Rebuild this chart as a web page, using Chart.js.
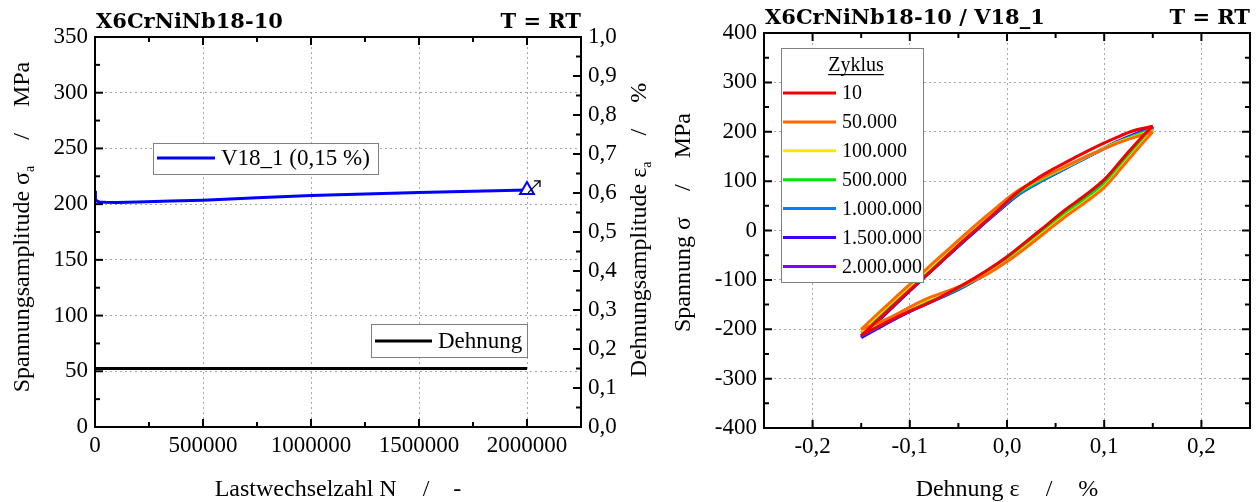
<!DOCTYPE html>
<html>
<head>
<meta charset="utf-8">
<script src="https://cdn.jsdelivr.net/npm/chart.js@4.4.0/dist/chart.umd.min.js"></script>
<style>
  html, body { margin: 0; padding: 0; background: #fff; }
  #wrap { position: relative; width: 1258px; height: 502px; overflow: hidden; }
  .panel { position: absolute; top: 0; }
  #left { left: 0; }
  #right { left: 630px; }
</style>
</head>
<body>
<div id="wrap">
  <div class="panel" id="left"><canvas id="ampChart" width="660" height="502"></canvas></div>
  <div class="panel" id="right"><canvas id="loopChart" width="628" height="502"></canvas></div>
</div>
<script>
// --- Wechselverformungskurve V18_1 ---
const cyclesN   = [0, 1000, 3000, 8000, 20000, 50000, 100000, 200000, 350000, 500000, 750000, 1000000, 1250000, 1500000, 1750000, 2000000];
const stressAmp = [212, 208, 204.5, 202.8, 202, 201.6, 201.5, 202, 202.8, 203.6, 205.8, 207.8, 209.1, 210.4, 211.5, 212.8];
const strainN   = [0, 2000000];
const strainAmp = [0.15, 0.15];
const runoutN      = [2000000];
const runoutStress = [212.8];

const cycleTicks     = [0, 500000, 1000000, 1500000, 2000000];
const stressAmpTicks = [0, 50, 100, 150, 200, 250, 300, 350];
const strainAmpTicks = [0, 0.1, 0.2, 0.3, 0.4, 0.5, 0.6, 0.7, 0.8, 0.9, 1.0];

// --- Hystereseschleifen ---
const cycleLabels = ['10', '50.000', '100.000', '500.000', '1.000.000', '1.500.000', '2.000.000'];
const cycleColors = ['#f00000', '#ff6a00', '#ffe600', '#00e600', '#0080ff', '#4000ff', '#8000ff'];
const strainUp   = [-0.15, -0.13, -0.11, -0.09, -0.07, -0.05, -0.03, -0.01, 0.01, 0.03, 0.05, 0.07, 0.09, 0.11, 0.13, 0.15];
const strainDown = [0.15, 0.14, 0.12, 0.10, 0.08, 0.06, 0.04, 0.02, 0.00, -0.02, -0.04, -0.06, -0.08, -0.10, -0.12, -0.14, -0.15];

const up10     = [-213, -176, -139, -103, -67, -30, 5, 40, 76, 104, 127, 148, 168, 186, 202, 211];
const up50k    = [-200, -163, -127, -91, -55, -20, 15, 48, 79, 101, 120, 139, 157, 174, 188, 200];
const up100k   = [-203, -166, -130, -94, -58, -22, 13, 46, 77, 100, 119, 138, 157, 175, 189, 202];
const up500k   = [-207, -171, -135, -99, -63, -27, 8, 42, 74, 98, 118, 138, 157, 176, 191, 205];
const up1000k  = [-213, -176, -139, -102, -66, -30, 5, 39, 71, 95, 116, 136, 156, 175, 192, 207];
const up1500k  = [-217, -179, -141, -104, -68, -32, 3, 37, 70, 94, 115, 136, 156, 176, 193, 209];
const up2000k  = [-215, -177, -140, -103, -67, -31, 4, 38, 71, 95, 116, 137, 157, 177, 194, 210];

const down10    = [211, 192, 148, 103, 71, 42, 10, -22, -53, -80, -104, -126, -146, -163, -182, -202, -213];
const down50k   = [200, 178, 132, 87, 56, 28, -3, -34, -63, -88, -106, -122, -136, -155, -176, -193, -200];
const down100k  = [202, 180, 134, 89, 58, 30, -1, -32, -62, -87, -106, -123, -138, -157, -177, -196, -203];
const down500k  = [205, 184, 139, 94, 63, 35, 3, -29, -59, -85, -107, -126, -143, -160, -179, -198, -207];
const down1000k = [207, 187, 142, 96, 64, 36, 4, -28, -59, -86, -108, -128, -145, -162, -182, -203, -213];
const down1500k = [209, 189, 144, 97, 65, 37, 5, -27, -58, -86, -109, -129, -146, -164, -184, -206, -217];
const down2000k = [210, 190, 145, 98, 65, 37, 5, -27, -58, -86, -108, -128, -146, -164, -184, -205, -215];

const strainTicks = [-0.2, -0.1, 0, 0.1, 0.2];
const stressTicks = [-400, -300, -200, -100, 0, 100, 200, 300, 400];

const loopUp   = [up10, up50k, up100k, up500k, up1000k, up1500k, up2000k];
const loopDown = [down10, down50k, down100k, down500k, down1000k, down1500k, down2000k];

const SERIF = "'Liberation Serif', 'Times New Roman', serif";
const TICK_FONT = { family: SERIF, size: 23 };
const TITLE_FONT = "24px " + SERIF;
const SUB_FONT = "14px " + SERIF;
const HEAD_FONT = "bold 21px 'DejaVu Serif', serif";
const GRID = { color: '#a8a8a8', lineWidth: 1, drawTicks: false };
const DASH = { display: false, dash: [2, 3] };

Chart.defaults.color = '#000';
Chart.defaults.font.family = SERIF;
Chart.defaults.font.size = 23;

const comma = v => Math.abs(v) < 1e-9 ? '0,0' : v.toFixed(1).replace('.', ',');
const fixedTicks = values => scale => { scale.ticks = values.map(v => ({ value: v })); };

// rahmen mit nach innen gerichteten haupt- und nebenstrichen
function drawFrame(chart, marks) {
  const { ctx, chartArea: a } = chart;
  ctx.save();
  ctx.strokeStyle = '#000';
  ctx.lineWidth = 2;
  ctx.strokeRect(a.left, a.top, a.right - a.left, a.bottom - a.top);
  marks.forEach(m => {
    const s = chart.scales[m.scale];
    for (let v = s.min; v <= s.max + m.minor / 100; v += m.minor) {
      const major = Math.abs(v / m.major - Math.round(v / m.major)) < 1e-6;
      const len = major ? 8 : 5;
      const p = s.getPixelForValue(v);
      ctx.beginPath();
      m.sides.forEach(side => {
        if (side === 'bottom') { ctx.moveTo(p, a.bottom); ctx.lineTo(p, a.bottom - len); }
        if (side === 'top') { ctx.moveTo(p, a.top); ctx.lineTo(p, a.top + len); }
        if (side === 'left') { ctx.moveTo(a.left, p); ctx.lineTo(a.left + len, p); }
        if (side === 'right') { ctx.moveTo(a.right, p); ctx.lineTo(a.right - len, p); }
      });
      ctx.stroke();
    }
  });
  ctx.restore();
}

// achsentitel mit tiefgestelltem index, zentriert um (x, y)
function drawRich(ctx, parts, x, y, angle) {
  ctx.save();
  ctx.translate(x, y);
  ctx.rotate(angle);
  ctx.textBaseline = 'alphabetic';
  ctx.textAlign = 'left';
  ctx.fillStyle = '#000';
  let total = 0;
  parts.forEach(p => {
    ctx.font = p.sub ? SUB_FONT : TITLE_FONT;
    total += (p.gap || 0) + ctx.measureText(p.t).width;
  });
  let cx = -total / 2;
  parts.forEach(p => {
    ctx.font = p.sub ? SUB_FONT : TITLE_FONT;
    cx += p.gap || 0;
    ctx.fillText(p.t, cx, p.sub ? 5 : 0);
    cx += ctx.measureText(p.t).width;
  });
  ctx.restore();
}

function drawHeader(chart, leftText, baseline) {
  const { ctx, chartArea: a } = chart;
  ctx.save();
  ctx.font = HEAD_FONT;
  ctx.fillStyle = '#000';
  ctx.textBaseline = 'alphabetic';
  ctx.textAlign = 'left';
  ctx.fillText(leftText, a.left + 1, baseline);
  ctx.textAlign = 'right';
  ctx.fillText('T = RT', a.right, baseline);
  ctx.restore();
}

function legendBox(ctx, x, y, w, h) {
  ctx.save();
  ctx.fillStyle = '#fff';
  ctx.fillRect(x, y, w, h);
  ctx.strokeStyle = '#808080';
  ctx.lineWidth = 1;
  ctx.strokeRect(x + 0.5, y + 0.5, w, h);
  ctx.restore();
}

function legendEntry(ctx, x1, x2, y, color, text, size) {
  ctx.save();
  ctx.strokeStyle = color;
  ctx.lineWidth = 3;
  ctx.beginPath();
  ctx.moveTo(x1, y);
  ctx.lineTo(x2, y);
  ctx.stroke();
  ctx.font = size + 'px ' + SERIF;
  ctx.fillStyle = '#000';
  ctx.textBaseline = 'middle';
  ctx.fillText(text, x2 + 6, y + 1);
  ctx.restore();
}

// Spannungsamplitude über Lastwechselzahl
new Chart(document.getElementById('ampChart'), {
  type: 'scatter',
  data: {
    datasets: [
      {
        data: runoutN.map((n, i) => ({ x: n, y: runoutStress[i] })),
        yAxisID: 'y',
        pointStyle: 'triangle',
        pointRadius: 8,
        pointBorderWidth: 2,
        borderColor: '#0000ff',
        backgroundColor: '#ffffff'
      },
      {
        label: 'V18_1 (0,15 %)',
        data: cyclesN.map((n, i) => ({ x: n, y: stressAmp[i] })),
        yAxisID: 'y',
        showLine: true,
        borderColor: '#0000ff',
        borderWidth: 3,
        pointRadius: 0
      },
      {
        label: 'Dehnung',
        data: strainN.map((n, i) => ({ x: n, y: strainAmp[i] })),
        yAxisID: 'y2',
        showLine: true,
        borderColor: '#000000',
        borderWidth: 3,
        pointRadius: 0
      }
    ]
  },
  options: {
    responsive: false,
    animation: false,
    events: [],
    layout: { padding: { top: 37, left: 0, right: 0, bottom: 0 } },
    plugins: { legend: { display: false }, tooltip: { enabled: false } },
    scales: {
      x: {
        type: 'linear', position: 'bottom', min: 0, max: 2250000,
        afterBuildTicks: fixedTicks(cycleTicks),
        ticks: { autoSkip: false, maxRotation: 0, padding: 5, font: TICK_FONT, callback: v => String(v) },
        grid: GRID, border: DASH,
        afterFit: s => { s.height = 75; }
      },
      y: {
        type: 'linear', position: 'left', min: 0, max: 350,
        afterBuildTicks: fixedTicks(stressAmpTicks),
        ticks: { padding: 7, font: TICK_FONT, callback: v => String(v) },
        grid: GRID, border: DASH,
        afterFit: s => { s.width = 95; }
      },
      y2: {
        type: 'linear', position: 'right', min: 0, max: 1,
        afterBuildTicks: fixedTicks(strainAmpTicks),
        ticks: { padding: 7, font: TICK_FONT, callback: comma },
        grid: { drawOnChartArea: false, drawTicks: false }, border: { display: false },
        afterFit: s => { s.width = 79; }
      }
    }
  },
  plugins: [{
    id: 'ampDecor',
    afterDatasetsDraw(chart) {
      drawFrame(chart, [
        { scale: 'x', sides: ['top', 'bottom'], major: 500000, minor: 250000 },
        { scale: 'y', sides: ['left'], major: 50, minor: 25 },
        { scale: 'y2', sides: ['right'], major: 0.1, minor: 0.05 }
      ]);
      // durchläufer-pfeil am letzten punkt
      const pt = chart.getDatasetMeta(0).data[0];
      const ctx = chart.ctx;
      const x0 = pt.x + 1, y0 = pt.y + 3, x1 = pt.x + 13, y1 = pt.y - 9;
      ctx.save();
      ctx.strokeStyle = '#000';
      ctx.lineWidth = 1.3;
      ctx.beginPath();
      ctx.moveTo(x0, y0); ctx.lineTo(x1, y1);
      ctx.moveTo(x1 - 6, y1); ctx.lineTo(x1, y1); ctx.lineTo(x1, y1 + 6);
      ctx.stroke();
      ctx.restore();
    },
    afterDraw(chart) {
      const { ctx, chartArea: a } = chart;
      drawHeader(chart, 'X6CrNiNb18-10', 28);
      const midY = (a.top + a.bottom) / 2;
      drawRich(ctx, [{ t: 'Lastwechselzahl N' }, { t: '/', gap: 26 }, { t: '-', gap: 24 }], (a.left + a.right) / 2, 496, 0);
      drawRich(ctx, [{ t: 'Spannungsamplitude σ' }, { t: 'a', sub: true }, { t: '/', gap: 26 }, { t: 'MPa', gap: 26 }], 29, midY - 5, -Math.PI / 2);
      drawRich(ctx, [{ t: 'Dehnungsamplitude ε' }, { t: 'a', sub: true }, { t: '/', gap: 26 }, { t: '%', gap: 26 }], 646, midY - 2, -Math.PI / 2);
      const ds = chart.data.datasets;
      legendBox(ctx, 153, 143, 225, 31);
      legendEntry(ctx, 157, 215, 158, ds[1].borderColor, ds[1].label, 23);
      legendBox(ctx, 371, 324, 156, 33);
      legendEntry(ctx, 375, 432, 341, ds[2].borderColor, ds[2].label, 23);
    }
  }]
});

// Hystereseschleifen ausgewählter Zyklen
new Chart(document.getElementById('loopChart'), {
  type: 'scatter',
  data: {
    datasets: cycleLabels.map((label, i) => ({
      label: label,
      data: strainUp.map((e, j) => ({ x: e, y: loopUp[i][j] }))
        .concat([{ x: strainUp[strainUp.length - 1], y: null }])
        .concat(strainDown.map((e, j) => ({ x: e, y: loopDown[i][j] }))),
      showLine: true,
      spanGaps: false,
      tension: 0.35,
      borderColor: cycleColors[i],
      borderWidth: 3,
      pointRadius: 0
    }))
  },
  options: {
    responsive: false,
    animation: false,
    events: [],
    layout: { padding: { top: 33, left: 0, right: 8, bottom: 0 } },
    plugins: { legend: { display: false }, tooltip: { enabled: false } },
    scales: {
      x: {
        type: 'linear', position: 'bottom', min: -0.25, max: 0.25,
        afterBuildTicks: fixedTicks(strainTicks),
        ticks: { autoSkip: false, maxRotation: 0, padding: 5, font: TICK_FONT, callback: comma },
        grid: GRID, border: DASH,
        afterFit: s => { s.height = 74; }
      },
      y: {
        type: 'linear', position: 'left', min: -400, max: 400,
        afterBuildTicks: fixedTicks(stressTicks),
        ticks: { padding: 7, font: TICK_FONT, callback: v => String(v) },
        grid: GRID, border: DASH,
        afterFit: s => { s.width = 134; }
      }
    }
  },
  plugins: [{
    id: 'loopDecor',
    afterDatasetsDraw(chart) {
      drawFrame(chart, [
        { scale: 'x', sides: ['top', 'bottom'], major: 0.1, minor: 0.05 },
        { scale: 'y', sides: ['left', 'right'], major: 100, minor: 50 }
      ]);
    },
    afterDraw(chart) {
      const { ctx, chartArea: a } = chart;
      drawHeader(chart, 'X6CrNiNb18-10 / V18_1', 24);
      const midY = (a.top + a.bottom) / 2;
      drawRich(ctx, [{ t: 'Dehnung ε' }, { t: '/', gap: 26 }, { t: '%', gap: 26 }], (a.left + a.right) / 2, 496, 0);
      drawRich(ctx, [{ t: 'Spannung σ' }, { t: '/', gap: 26 }, { t: 'MPa', gap: 26 }], 60, midY - 8, -Math.PI / 2);

      legendBox(ctx, 151, 48, 142, 234);
      ctx.save();
      ctx.font = '20px ' + SERIF;
      ctx.fillStyle = '#000';
      ctx.textAlign = 'center';
      ctx.textBaseline = 'alphabetic';
      ctx.fillText('Zyklus', 226, 71);
      const w = ctx.measureText('Zyklus').width;
      ctx.fillRect(226 - w / 2, 74, w, 1.2);
      ctx.restore();
      chart.data.datasets.forEach((ds, i) => {
        legendEntry(ctx, 153, 206, 93 + 28.9 * i, ds.borderColor, ds.label, 20);
      });
    }
  }]
});
</script>
</body>
</html>
